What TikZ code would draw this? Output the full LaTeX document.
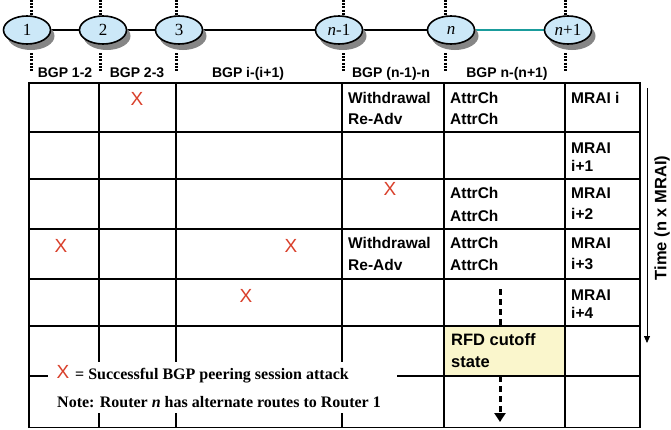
\documentclass[tikz,border=0pt]{standalone}
\usepackage{fontspec}
\setmainfont{Liberation Serif}
\setsansfont{Liberation Sans}
\usetikzlibrary{shapes.geometric,shadows,arrows.meta,backgrounds}
\definecolor{routerblue}{HTML}{CCE8F8}
\definecolor{linkteal}{HTML}{1A9C9C}
\definecolor{attackred}{HTML}{D9402B}
\definecolor{rfdyellow}{HTML}{FAF6CC}

\begin{document}
\begin{tikzpicture}[x=1pt,y=-1pt,
	router/.style={draw,ellipse,fill=routerblue,line width=1.6pt,inner sep=0,outer sep=0,minimum width=47pt,minimum height=28pt,font=\fontsize{17}{17}\selectfont,drop shadow={shadow xshift=4pt,shadow yshift=-6pt,fill=gray!95,opacity=1}},
	session/.style={line width=3pt,dash pattern=on 2pt off 1.2pt},
	bgp/.style={anchor=base,inner sep=0,font=\sffamily\bfseries\fontsize{14}{14}\selectfont},
	cell/.style={anchor=base west,inner sep=0,font=\sffamily\bfseries\fontsize{15.5}{15.5}\selectfont},
	attack/.style={inner sep=0,text=attackred,font=\sffamily\fontsize{19}{19}\selectfont},
	legend/.style={anchor=base west,inner sep=0,font=\bfseries\fontsize{16}{16}\selectfont}]
	\useasboundingbox (0,0) rectangle (671,429);

	% session boundaries
	\foreach \x in {31,100,176,343,445,565} {
		\draw[session] (\x,0) -- (\x,15);
		\draw[session] (\x,53) -- (\x,72);
	}

	% routers
	\node[router] (1) at (27,30) {1};
	\node[router] (2) at (103,30) {2};
	\node[router] (3) at (179,30) {3};
	\node[router] (n-1) at (339,30) {\textit{n}-1};
	\node[router] (n) at (451,30) {\textit{n}};
	\node[router] (n+1) at (568,30) {\textit{n}+1};
	\begin{scope}[on background layer]
		\draw[line width=2pt] (1) -- (2) -- (3) -- (n-1) -- (n);
		\draw[line width=2.2pt,linkteal] (n) -- (n+1);
	\end{scope}

	\node[bgp] (b12) at (65,77) {BGP 1-2};
	\node[bgp] (b23) at (137,77) {BGP 2-3};
	\node[bgp] (bii) at (248,77) {BGP i-(i+1)};
	\node[bgp] (bnn) at (391,77) {BGP (n-1)-n};
	\node[bgp] (bn1) at (507,77) {BGP n-(n+1)};

	% table
	\fill[rfdyellow] (444,326) rectangle (565,376);
	\foreach \x in {99,176,342,444,565}
		\draw[line width=1.3pt] (\x,83) -- (\x,428);
	\foreach \y in {132,179,229,279,326,376,427.5}
		\draw[line width=1.3pt] (29,\y) -- (640,\y);
	\draw[line width=2.6pt] (29,428) -- (29,83) -- (640,83) -- (640,428);

	\node[cell] (w1) at (348,103) {Withdrawal};
	\node[cell] (r1) at (348,124) {Re-Adv};
	\node[cell] (a1) at (450,103) {AttrCh};
	\node[cell] (a2) at (450,124) {AttrCh};
	\node[cell] (m1) at (571,103) {MRAI i};
	\node[cell] (m2) at (571,153) {MRAI};
	\node[cell] (m2b) at (571,171) {i+1};
	\node[cell] (a3) at (450,198) {AttrCh};
	\node[cell] (a4) at (450,221) {AttrCh};
	\node[cell] (m3) at (571,198) {MRAI};
	\node[cell] (m3b) at (571,219) {i+2};
	\node[cell] (w2) at (348,248) {Withdrawal};
	\node[cell] (r2) at (348,270) {Re-Adv};
	\node[cell] (a5) at (450,248) {AttrCh};
	\node[cell] (a6) at (450,270) {AttrCh};
	\node[cell] (m4) at (571,248) {MRAI};
	\node[cell] (m4b) at (571,269) {i+3};
	\node[cell] (m5) at (571,300) {MRAI};
	\node[cell] (m5b) at (571,318) {i+4};

	\node[attack] (x1) at (137,99) {X};
	\node[attack] (x2) at (390,189) {X};
	\node[attack] (x3) at (61,246) {X};
	\node[attack] (x4) at (291,246) {X};
	\node[attack] (x5) at (246,296) {X};

	% RFD cutoff
	\node[inner sep=0,minimum width=121pt,minimum height=50pt] (rfd) at (504.5,351) {};
	\node[cell,font=\sffamily\bfseries\fontsize{16.5}{16.5}\selectfont] (rfd1) at (451,345) {RFD cutoff};
	\node[cell,font=\sffamily\bfseries\fontsize{16.5}{16.5}\selectfont] (rfd2) at (451,367) {state};
	\coordinate (d1) at (500,289);
	\coordinate (d2) at (500,422);
	\draw[line width=3pt,dash pattern=on 6pt off 4pt] (d1) -- (d1 |- rfd.north);
	\draw[line width=3pt,dash pattern=on 6pt off 4pt,-{Triangle[width=11pt,length=9pt]}] (d1 |- rfd.south) -- (d2);

	% legend
	\fill[white] (48,362) rectangle (397,413);
	\node[attack] (xl) at (63,372) {X};
	\node[legend] (l1) at (75,379) {= Successful BGP peering session attack};
	\node[legend] (l2) at (57,407) {Note: Router \textit{n} has alternate routes to Router 1};

	% time axis
	\coordinate (t1) at (647,88);
	\coordinate (t2) at (647,343);
	\draw[line width=0.8pt,-{Triangle[width=6pt,length=7pt]}] (t1) -- (t2);
	\node[rotate=90,inner sep=0,font=\sffamily\bfseries\fontsize{16.5}{16.5}\selectfont] (time) at (662,218) {Time (n x MRAI)};
\end{tikzpicture}
\end{document}
